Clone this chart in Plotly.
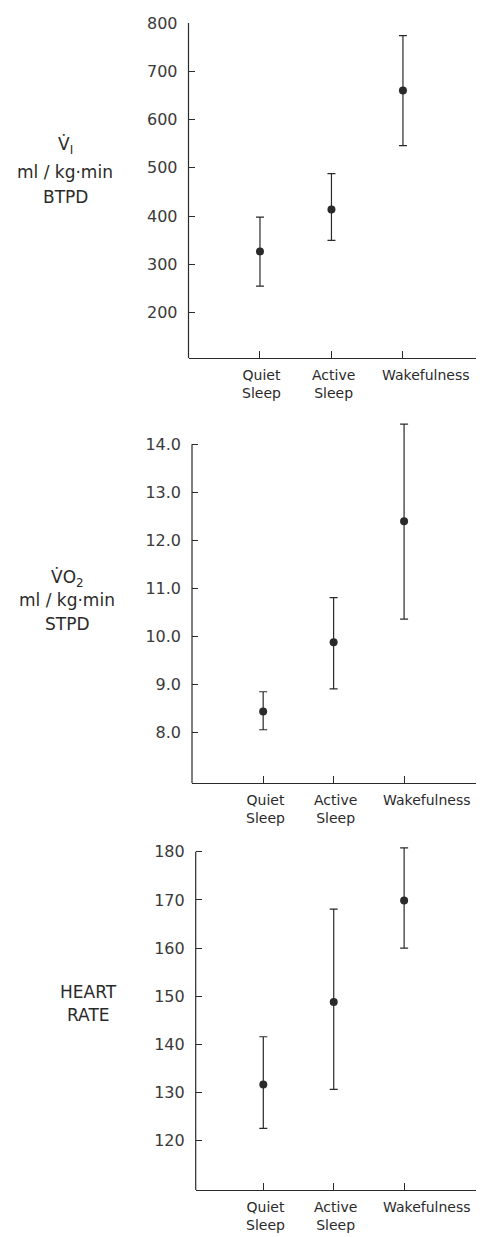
import plotly.graph_objects as go

categories = ["Quiet<br>Sleep", "Active<br>Sleep", "Wakefulness"]
cat_pos = [1, 2, 3]
cat_label_shift = [2, 2, 23]

vi_mean = [327, 414, 660]
vi_upper = [398, 488, 774]
vi_lower = [255, 350, 546]

vo2_mean = [8.44, 9.88, 12.40]
vo2_upper = [8.85, 10.81, 14.42]
vo2_lower = [8.06, 8.91, 10.36]

hr_mean = [131.7, 148.8, 169.9]
hr_upper = [141.6, 168.1, 180.8]
hr_lower = [122.6, 130.7, 160.0]

vi_ticks = [200, 300, 400, 500, 600, 700, 800]
vo2_ticks = [8.0, 9.0, 10.0, 11.0, 12.0, 13.0, 14.0]
vo2_ticklabels = ["8.0", "9.0", "10.0", "11.0", "12.0", "13.0", "14.0"]
hr_ticks = [120, 130, 140, 150, 160, 170, 180]

OFF = 8  # page body margin
W, H = 484 - OFF, 1237 - OFF
FONT = "DejaVu Sans"
INK = "#2a2a2a"

def py(p):
    return 1 - (p - OFF) / H

def px(p):
    return (p - OFF) / W

fig = go.Figure()

panels = [
    dict(mean=vi_mean, up=vi_upper, lo=vi_lower, yrange=[105.6, 800], ytop=800,
         ydom=[py(358.3), py(23.0)], xdom=[px(188.5), px(478)], xrange=[0, 4.05],
         ticks=vi_ticks, ticktext=[str(t) for t in vi_ticks]),
    dict(mean=vo2_mean, up=vo2_upper, lo=vo2_lower, yrange=[6.945, 14.5], ytop=14.0,
         ydom=[py(783.3), py(420.3)], xdom=[px(192), px(483)], xrange=[-0.01, 4.12],
         ticks=vo2_ticks, ticktext=vo2_ticklabels),
    dict(mean=hr_mean, up=hr_upper, lo=hr_lower, yrange=[109.8, 182], ytop=180,
         ydom=[py(1190), py(842.1)], xdom=[px(195.7), px(483)], xrange=[0.04, 4.12],
         ticks=hr_ticks, ticktext=[str(t) for t in hr_ticks]),
]

for i, p in enumerate(panels):
    n = "" if i == 0 else str(i + 1)
    xa, ya = "x" + n, "y" + n
    fig.add_trace(go.Scatter(
        x=cat_pos, y=p["mean"], mode="markers", xaxis=xa, yaxis=ya,
        marker=dict(color=INK, size=8),
        error_y=dict(type="data", symmetric=False,
                     array=[u - m for u, m in zip(p["up"], p["mean"])],
                     arrayminus=[m - l for m, l in zip(p["mean"], p["lo"])],
                     color=INK, thickness=1.2, width=4),
        showlegend=False, hoverinfo="skip"))
    fig.update_layout(**{
        "xaxis" + n: dict(domain=p["xdom"], range=p["xrange"], anchor=ya,
                          tickvals=cat_pos, showticklabels=False,
                          ticks="inside", ticklen=7, tickwidth=1.2, tickcolor=INK,
                          showline=True, linecolor=INK, linewidth=1.2,
                          showgrid=False, zeroline=False, automargin=False),
        "yaxis" + n: dict(domain=p["ydom"], range=p["yrange"], anchor=xa,
                          tickvals=p["ticks"], ticktext=p["ticktext"],
                          ticks="inside", ticklen=6, tickwidth=1.2, tickcolor=INK,
                          showline=False, showgrid=False, zeroline=False,
                          automargin=False, ticklabelstandoff=10,
                          tickfont=dict(family=FONT, size=16, color="#3a3a3a")),
    })
    fig.add_shape(type="line", xref=xa + " domain", yref=ya,
                  x0=0, x1=0, y0=p["yrange"][0], y1=p["ytop"],
                  line=dict(color=INK, width=1.2))
    for c, xv, sh in zip(categories, cat_pos, cat_label_shift):
        fig.add_annotation(x=xv, y=0, xref=xa, yref=ya + " domain",
                           text=c, showarrow=False, xanchor="center", yanchor="top",
                           xshift=sh, yshift=-7,
                           font=dict(family=FONT, size=14, color=INK))

label_font = dict(family=FONT, size=17, color=INK)
annotations = [
    dict(text="V\u0307<sub>I</sub>", x=px(65), y=py(146)),
    dict(text="ml / kg\u00b7min", x=px(65), y=py(172)),
    dict(text="BTPD", x=px(65), y=py(197)),
    dict(text="V\u0307O<sub>2</sub>", x=px(67), y=py(578)),
    dict(text="ml / kg\u00b7min", x=px(67), y=py(600)),
    dict(text="STPD", x=px(67), y=py(624)),
    dict(text="HEART", x=px(88), y=py(992)),
    dict(text="RATE", x=px(88), y=py(1015)),
]
for a in annotations:
    fig.add_annotation(xref="paper", yref="paper", showarrow=False,
                       xanchor="center", yanchor="middle", font=label_font, **a)

fig.update_layout(width=W, height=H, margin=dict(l=0, r=0, t=0, b=0),
                  paper_bgcolor="white", plot_bgcolor="white")

fig.write_html("out.html")
